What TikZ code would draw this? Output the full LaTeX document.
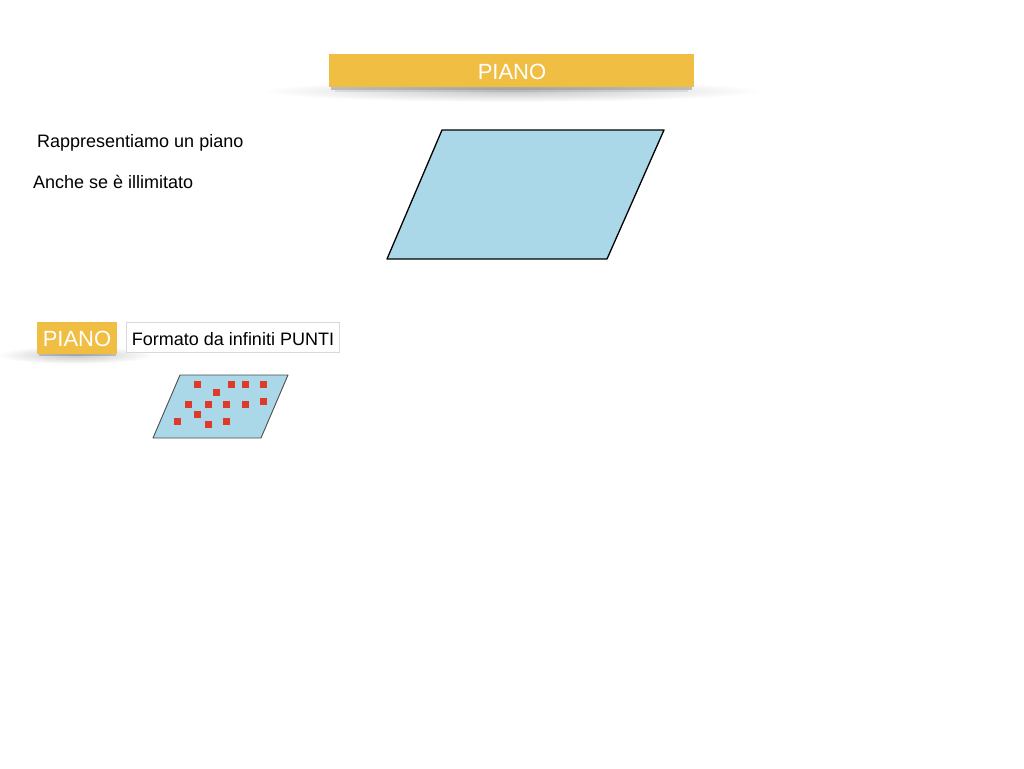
\documentclass[tikz,border=0pt]{standalone}
\usepackage{fontspec}
\setmainfont{Liberation Sans}
\definecolor{banner}{HTML}{EFBE42}
\definecolor{planeblue}{HTML}{AAD8E8}
\definecolor{dotred}{HTML}{DE3A2A}
\begin{document}
\begin{tikzpicture}[x=1pt,y=-1pt,
  bannerbox/.style={fill=banner, draw=none, inner sep=0pt, anchor=center},
  bannertext/.style={text=white, font=\fontsize{22}{26}\selectfont, inner sep=0pt, anchor=base},
  bodytext/.style={font=\fontsize{18}{22}\selectfont, text=black, inner sep=0pt, anchor=base west},
  labelbox/.style={fill=white, draw=black!15, line width=0.8pt, inner sep=0pt, anchor=center},
  labeltext/.style={font=\fontsize{18}{22}\selectfont, text=black, inner sep=0pt, anchor=base},
  plane/.style={fill=planeblue, draw=black, line width=1.3pt, line join=round},
  smallplane/.style={fill=planeblue, draw=black!70, line width=0.9pt, line join=round},
  dot/.style={fill=dotred, draw=none},
  softshadow/.style={inner color=black!22, outer color=white}
]
\useasboundingbox (0,0) rectangle (1024,768);
% shadow of top banner
\shade[softshadow] (512,91) ellipse (250 and 11);
\fill[black, opacity=0.22] (331,86) rectangle (692,89.5);
\fill[black, opacity=0.08] (335,89.5) rectangle (688,92);
% top banner
\node[bannerbox, minimum width=365pt, minimum height=33pt] (title) at (511.5,70.5) {};
\node[bannertext] (titletext) at (512,79) {PIANO};

% texts
\node[bodytext] (t1) at (37,147) {Rappresentiamo un piano};
\node[bodytext] (t2) at (33,188) {Anche se è illimitato};

% big plane
\draw[plane] (442,130) -- (664,130) -- (607,259) -- (387,259) -- cycle;

% shadow of small label
\shade[softshadow] (75,355) ellipse (78 and 9);
\fill[black, opacity=0.18] (39,352) rectangle (116,355.5);
% small label
\node[bannerbox, minimum width=80pt, minimum height=32pt] (lab) at (77,337.5) {};
\node[bannertext] (labtext) at (77,346) {PIANO};
\node[labelbox, minimum width=213pt, minimum height=30pt] (def) at (232.5,337.5) {};
\node[labeltext] (deftext) at (233,345) {Formato da infiniti PUNTI};

% small plane
\draw[smallplane] (180,375) -- (288,375) -- (261,438) -- (153,438) -- cycle;
\foreach \x/\y in {197/384,231/384,245/384,263/384,216/392,188/404,208/404,226/404,245/404,263/401,197/414,177/421,208/424,226/421}{
  \fill[dot] (\x-3.5,\y-3.5) rectangle (\x+3.5,\y+3.5);
}
\end{tikzpicture}
\end{document}
